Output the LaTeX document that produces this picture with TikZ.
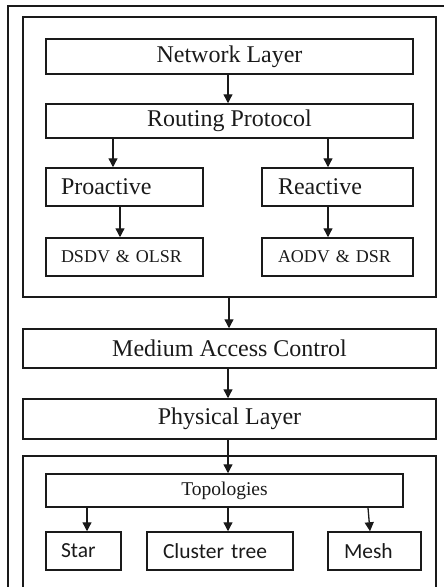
\documentclass[tikz,border=0pt]{standalone}
\usepackage{fontspec}
\setmainfont{Liberation Serif}
\newfontfamily\carl{Carlito}
\usetikzlibrary{arrows.meta,calc}
\definecolor{ink}{HTML}{1A1A1A}
\tikzset{
  box/.style={draw=ink, line width=1.5pt, rectangle, inner sep=0pt, text=ink, anchor=center},
  bigtxt/.style={font=\fontsize{24}{24}\selectfont},
  midtxt/.style={font=\fontsize{18}{18}\selectfont},
  toptxt/.style={font=\fontsize{19.5}{19.5}\selectfont},
  sanstxt/.style={font=\carl\fontsize{21.5}{21.5}\selectfont},
  lefttxt/.style={align=left, inner xsep=15pt},
  arr/.style={draw=ink, line width=1.3pt, -{Triangle[width=9pt,length=9pt]}},
  frame/.style={draw=ink, line width=1.5pt}
}
\begin{document}
\begin{tikzpicture}[x=1pt,y=-1pt]
\useasboundingbox (0,0) rectangle (444,587);
% outer frame (open to right and bottom)
\draw[frame] (8,587) -- (8,6) -- (444,6);
% upper inner frame
\node[box, minimum width=413pt, minimum height=280pt] (upper) at (229.5,157) {};
% lower frame (open at bottom)
\coordinate (lowL) at (23,587);
\coordinate (lowR) at (436,587);
\coordinate (lowTL) at (23,456);
\coordinate (lowTR) at (436,456);
\draw[frame] (lowL) -- (lowTL) -- (lowTR) -- (lowR);

% boxes
\node[box, bigtxt, minimum width=367pt, minimum height=35pt] (nl) at (229.5,56.5) {Network Layer};
\node[box, bigtxt, minimum width=367pt, minimum height=34pt] (rp) at (229.5,121) {Routing Protocol};
\node[box, bigtxt, lefttxt, text width=127pt, minimum height=38pt] (pro) at (124.5,187) {Proactive};
\node[box, bigtxt, lefttxt, inner xsep=16pt, text width=119pt, minimum height=38pt] (rea) at (337.5,187) {Reactive};
\node[box, midtxt, lefttxt, text width=127pt, minimum height=38pt] (dsdv) at (124.5,257) {DSDV \& OLSR};
\node[box, midtxt, lefttxt, inner xsep=16pt, text width=119pt, minimum height=38pt] (aodv) at (337.5,257) {AODV \& DSR};
\node[box, bigtxt, minimum width=413pt, minimum height=39pt] (mac) at (229.5,348.5) {Medium Access Control};
\node[box, bigtxt, minimum width=413pt, minimum height=40pt] (phy) at (229.5,419) {Physical Layer};
\node[box, toptxt, minimum width=357pt, minimum height=33pt] (topo) at (224.5,490.5) {Topologies};
\node[box, sanstxt, lefttxt, text width=45pt, minimum height=38pt] (star) at (83.5,551) {Star};
\node[box, sanstxt, lefttxt, inner xsep=16pt, text width=114pt, minimum height=38pt] (clus) at (220,551) {Cluster tree};
\node[box, sanstxt, lefttxt, inner xsep=16pt, text width=61pt, minimum height=38pt] (mesh) at (374.5,551) {Mesh};

% x guides
\coordinate (x87) at (87,0);
\coordinate (x113) at (113,0);
\coordinate (x120) at (120,0);
\coordinate (x228) at (228,0);
\coordinate (x229) at (229,0);
\coordinate (x328) at (328,0);
\coordinate (x368) at (368,0);
\coordinate (x370) at (370,0);

% connectors
\draw[arr] (nl.south -| x228) -- (rp.north -| x228);
\draw[arr] (rp.south -| x113) -- (pro.north -| x113);
\draw[arr] (rp.south -| x328) -- (rea.north -| x328);
\draw[arr] (pro.south -| x120) -- (dsdv.north -| x120);
\draw[arr] (rea.south -| x328) -- (aodv.north -| x328);
\draw[arr] (upper.south -| x229) -- (mac.north -| x229);
\draw[arr] (mac.south -| x228) -- (phy.north -| x228);
\draw[arr] (phy.south -| x228) -- (topo.north -| x228);
\draw[arr] (topo.south -| x87) -- (star.north -| x87);
\draw[arr] (topo.south -| x228) -- (clus.north -| x228);
\draw[arr] (topo.south -| x368) -- (mesh.north -| x370);
\end{tikzpicture}
\end{document}
